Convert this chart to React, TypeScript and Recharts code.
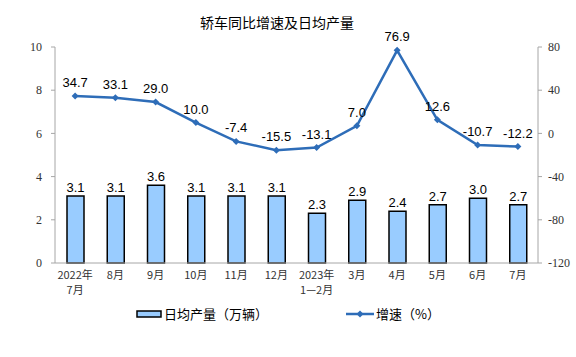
import { ComposedChart, Bar, Line, XAxis, YAxis, LabelList } from "recharts";

const months = ["2022年\n7月", "8月", "9月", "10月", "11月", "12月", "2023年\n1—2月", "3月", "4月", "5月", "6月", "7月"];
const dailyOutput = [3.1, 3.1, 3.6, 3.1, 3.1, 3.1, 2.3, 2.9, 2.4, 2.7, 3.0, 2.7];
const growth = [34.7, 33.1, 29.0, 10.0, -7.4, -15.5, -13.1, 7.0, 76.9, 12.6, -10.7, -12.2];
const leftTicks = [0, 2, 4, 6, 8, 10];
const rightTicks = [-120, -80, -40, 0, 40, 80];

const BAR_FILL = "#99ccff";
const LINE_COLOR = "#2e6db8";
const AXIS = "#a6a6a6";
const CJK = '"Noto Sans CJK SC", "Noto Sans", sans-serif';
const NUM = '"Liberation Sans", Arial, sans-serif';

const data = months.map((m, i) => ({ month: m, output: dailyOutput[i], growth: growth[i] }));

// eslint-disable-next-line @typescript-eslint/no-explicit-any
function MonthTick(props: any) {
  const { x, y, payload } = props;
  const lines = String(payload.value).split("\n");
  return (
    <text x={x} y={y} textAnchor="middle" fontSize={11} fill="#333" fontFamily={CJK}>
      {lines.map((l, i) => (
        <tspan key={i} x={x} dy={i === 0 ? 8 : 15}>{l}</tspan>
      ))}
    </text>
  );
}

// eslint-disable-next-line @typescript-eslint/no-explicit-any
function Diamond(props: any) {
  const { cx, cy, index } = props;
  if (cx == null || cy == null) return <g key={index} />;
  const s = 3.5;
  return <path key={index} d={`M${cx},${cy - s}L${cx + s},${cy}L${cx},${cy + s}L${cx - s},${cy}Z`} fill={LINE_COLOR} />;
}

export default function App() {
  return (
    <div style={{ position: "absolute", left: 0, top: 0, width: 576, height: 357, background: "#fff" }}>
      <div style={{ position: "absolute", left: 0, top: 12, width: 554, textAlign: "center", fontFamily: CJK, fontSize: 14, color: "#000" }}>
        轿车同比增速及日均产量
      </div>
      <ComposedChart width={576} height={357} data={data} margin={{ top: 47, right: 0, left: 20, bottom: 58 }}>
        <XAxis dataKey="month" interval={0} height={36} tickLine={false} stroke={AXIS} tick={<MonthTick />} />
        <YAxis
          yAxisId="left"
          width={35}
          domain={[0, 10]}
          ticks={leftTicks}
          stroke={AXIS}
          tickSize={4}
          tickMargin={9}
          tick={{ fill: "#333", fontSize: 12, fontFamily: '"Liberation Serif", serif' }}
        />
        <YAxis
          yAxisId="right"
          orientation="right"
          width={38}
          domain={[-120, 80]}
          ticks={rightTicks}
          stroke={AXIS}
          tickSize={4}
          tickMargin={6}
          tick={{ fill: "#333", fontSize: 12, fontFamily: '"Liberation Serif", serif' }}
        />
        <Bar yAxisId="left" dataKey="output" barSize={17} fill={BAR_FILL} stroke="#000" strokeWidth={1.5} isAnimationActive={false}>
          <LabelList dataKey="output" position="top" offset={4} fill="#000" fontSize={13} fontFamily={NUM} formatter={(v: number) => v.toFixed(1)} />
        </Bar>
        <Line yAxisId="right" dataKey="growth" stroke={LINE_COLOR} strokeWidth={2.5} dot={<Diamond />} activeDot={false} isAnimationActive={false}>
          <LabelList dataKey="growth" position="top" offset={9} fill="#000" fontSize={13} fontFamily={NUM} formatter={(v: number) => v.toFixed(1)} />
        </Line>
      </ComposedChart>
      <div style={{ position: "absolute", left: 0, top: 304, width: 576, display: "flex", justifyContent: "center", gap: 78, fontFamily: CJK, fontSize: 13, color: "#000" }}>
        <div style={{ display: "flex", alignItems: "center" }}>
          <svg width={28} height={10}>
            <rect x={1} y={2} width={24} height={6} fill={BAR_FILL} stroke="#000" strokeWidth={1.5} />
          </svg>
          <span>日均产量（万辆）</span>
        </div>
        <div style={{ display: "flex", alignItems: "center" }}>
          <svg width={30} height={10}>
            <line x1={0} y1={5} x2={28} y2={5} stroke={LINE_COLOR} strokeWidth={2.5} />
            <path d="M14,1.5L17.5,5L14,8.5L10.5,5Z" fill={LINE_COLOR} />
          </svg>
          <span>增速（%）</span>
        </div>
      </div>
    </div>
  );
}
